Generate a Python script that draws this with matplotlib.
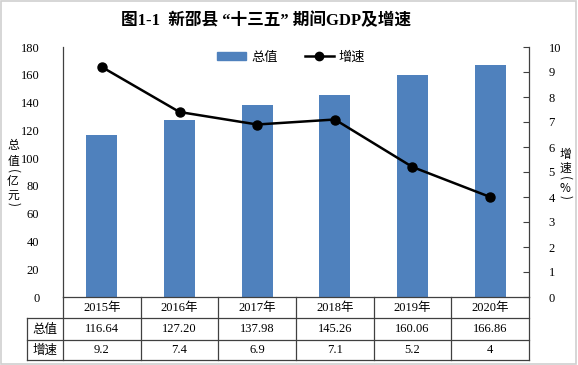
import matplotlib
matplotlib.use('Agg')
import matplotlib.pyplot as plt
from matplotlib.patches import Patch, Rectangle
from matplotlib.lines import Line2D

# 新邵县 "十三五" 期间 GDP 及增速
years = ['2015年', '2016年', '2017年', '2018年', '2019年', '2020年']
totals = [116.64, 127.20, 137.98, 145.26, 160.06, 166.86]
speeds = [9.2, 7.4, 6.9, 7.1, 5.2, 4]
total_txt = ['116.64', '127.20', '137.98', '145.26', '160.06', '166.86']
speed_txt = ['9.2', '7.4', '6.9', '7.1', '5.2', '4']

fam = ['Liberation Serif', 'Noto Sans CJK SC']
cjk = ['Noto Sans CJK SC', 'DejaVu Sans']
plt.rcParams['font.family'] = fam

W, H = 578, 365
fig = plt.figure(figsize=(W / 100, H / 100), dpi=100)
ax = fig.add_axes([63 / W, (H - 297) / H, (529 - 63) / W, 250 / H])
ax2 = ax.twinx()

x = list(range(len(years)))
ax.bar(x, totals, width=0.4, color='#4F81BD', zorder=2)
ax2.plot(x, speeds, color='black', lw=1.8, marker='o', ms=6.5, zorder=3)

ax.set_xlim(-0.5, len(years) - 0.5)
ax.set_ylim(0, 180)
ax.set_yticks(range(0, 181, 20))
ax2.set_ylim(0, 10)
ax2.set_yticks(range(0, 11))
ax.set_xticks([])

ax.tick_params(axis='y', length=0, pad=17, labelsize=9)
ax2.tick_params(axis='y', direction='in', length=4, pad=14, labelsize=9,
                color='#404040')
for a in (ax, ax2):
    a.spines['top'].set_visible(False)
    for s in ('left', 'right', 'bottom'):
        a.spines[s].set_color('#404040')
        a.spines[s].set_linewidth(0.9)
ax.spines['right'].set_visible(False)
ax2.spines['left'].set_visible(False)
ax2.spines['bottom'].set_visible(False)

# table under the plot
n = len(years)
tr = ax.transAxes
rows_y = [0, -21 / 250, -43 / 250, -63 / 250]
lab_x = -36 / 466
lk = dict(transform=tr, clip_on=False, color='#404040', lw=0.9)
for y in rows_y[1:]:
    ax.add_line(Line2D([lab_x, 1], [y, y], **lk))
ax.add_line(Line2D([lab_x, lab_x], [rows_y[1], rows_y[3]], **lk))
for i in range(n + 1):
    xx = i / n
    ax.add_line(Line2D([xx, xx], [rows_y[0], rows_y[3]], **lk))
for i in range(n):
    cx = (i + 0.5) / n
    for r, txt in enumerate([years[i], total_txt[i], speed_txt[i]]):
        cy = (rows_y[r] + rows_y[r + 1]) / 2
        ax.text(cx, cy, txt, transform=tr, ha='center', va='center',
                fontsize=9, family=fam)
for r, lab in [(1, '总值'), (2, '增速')]:
    cy = (rows_y[r] + rows_y[r + 1]) / 2
    ax.text(lab_x / 2, cy, lab, transform=tr, ha='center', va='center',
            fontsize=9, family=cjk)


# axis titles, one character at a time, brackets turned sideways
def stacked(xp, items):
    for ch, yp in items:
        rot = -90 if ch in '()' else 0
        fig.text(xp / W, 1 - yp / H, ch, ha='center', va='center',
                 fontsize=8.5, family=cjk, rotation=rot)


stacked(13, [('总', 145), ('值', 161), ('(', 171), ('亿', 181),
             ('元', 195), (')', 204)])
stacked(565, [('增', 155), ('速', 168), ('(', 178), ('%', 188), (')', 197)])

fig.text(266 / W, 1 - 21 / H, '图1-1  新邵县 “十三五” 期间GDP及增速',
         ha='center', va='center', fontsize=12, fontweight='bold', family=fam)

handles = [Patch(color='#4F81BD', label='总值'),
           Line2D([], [], color='black', lw=1.8, marker='o', ms=6, label='增速')]
ax.legend(handles=handles, loc='center', bbox_to_anchor=(0.49, 0.96),
          ncol=2, frameon=False, prop={'family': cjk, 'size': 9.5},
          handlelength=2.2, handleheight=0.5, columnspacing=2.0,
          handletextpad=0.4)

fig.patches.append(Rectangle((0.002, 0.003), 0.994, 0.994, transform=fig.transFigure,
                             fill=False, ec='#d0d0d0', lw=1.2))

fig.savefig('out.png', dpi=100)
